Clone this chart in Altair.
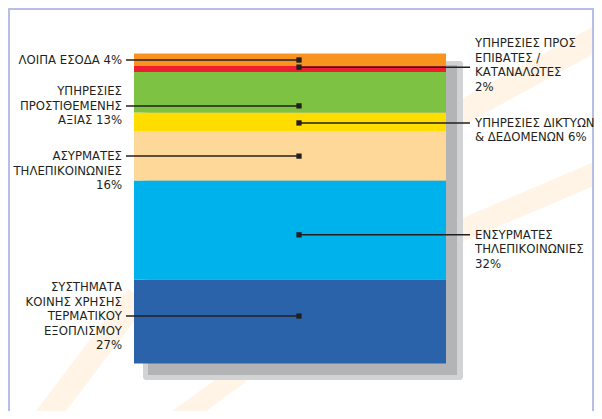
import altair as alt
import pandas as pd

# ---- data (bottom to top) ----
names = ["ΣΥΣΤΗΜΑΤΑ ΚΟΙΝΗΣ ΧΡΗΣΗΣ ΤΕΡΜΑΤΙΚΟΥ ΕΞΟΠΛΙΣΜΟΥ",
         "ΕΝΣΥΡΜΑΤΕΣ ΤΗΛΕΠΙΚΟΙΝΩΝΙΕΣ",
         "ΑΣΥΡΜΑΤΕΣ ΤΗΛΕΠΙΚΟΙΝΩΝΙΕΣ",
         "ΥΠΗΡΕΣΙΕΣ ΔΙΚΤΥΩΝ & ΔΕΔΟΜΕΝΩΝ",
         "ΥΠΗΡΕΣΙΕΣ ΠΡΟΣΤΙΘΕΜΕΝΗΣ ΑΞΙΑΣ",
         "ΥΠΗΡΕΣΙΕΣ ΠΡΟΣ ΕΠΙΒΑΤΕΣ / ΚΑΤΑΝΑΛΩΤΕΣ",
         "ΛΟΙΠΑ ΕΣΟΔΑ"]
values = [27, 32, 16, 6, 13, 2, 4]
colors = ["#2a63aa", "#00b2eb", "#fed899", "#ffdd00", "#7dc243", "#ee1d30", "#f7931e"]
label_lines = [
    ["ΣΥΣΤΗΜΑΤΑ", "ΚΟΙΝΗΣ ΧΡΗΣΗΣ", "ΤΕΡΜΑΤΙΚΟΥ", "ΕΞΟΠΛΙΣΜΟΥ", "27%"],
    ["ΕΝΣΥΡΜΑΤΕΣ", "ΤΗΛΕΠΙΚΟΙΝΩΝΙΕΣ", "\u00a032%"],
    ["ΑΣΥΡΜΑΤΕΣ", "ΤΗΛΕΠΙΚΟΙΝΩΝΙΕΣ", "16%"],
    ["ΥΠΗΡΕΣΙΕΣ ΔΙΚΤΥΩΝ", "& ΔΕΔΟΜΕΝΩΝ 6%"],
    ["ΥΠΗΡΕΣΙΕΣ", "ΠΡΟΣΤΙΘΕΜΕΝΗΣ", "ΑΞΙΑΣ 13%"],
    ["ΥΠΗΡΕΣΙΕΣ ΠΡΟΣ", "ΕΠΙΒΑΤΕΣ /", "ΚΑΤΑΝΑΛΩΤΕΣ", "2%"],
    ["ΛΟΙΠΑ ΕΣΟΔΑ 4%"],
]
sides = ["left", "right", "left", "right", "left", "right", "left"]
# where each leader meets its segment (percent units) and which text line it points at
label_at = [15.3, 41.5, 66.9, 77.6, 83.1, 95.6, 97.9]
leader_line = [2, 0, 0, 0, 1, 1.65, 0]

Y_TOP, Y_BOT = 45.5, 355.5            # pixel range of the 0..100 scale
PX_PER_UNIT = (Y_BOT - Y_TOP) / 100.0
LINE_H = 14.5
FONT = "Liberation Sans Narrow, DejaVu Sans Condensed, Arial Narrow, sans-serif"

seg_rows, txt_rows = [], []
cum = 0
for n, v, s, a, k, lines in zip(names, values, sides, label_at, leader_line, label_lines):
    seg_rows.append({"name": n, "start": cum, "end": cum + v, "side": s, "anchor": a})
    for i, t in enumerate(lines):
        txt_rows.append({"name": n, "line": t, "side": s,
                         "ty": a - (i - k) * LINE_H / PX_PER_UNIT})
    cum += v
seg = pd.DataFrame(seg_rows)
txt = pd.DataFrame(txt_rows)

W, H = 586, 403
yscale = alt.Scale(domain=[0, 100], range=[Y_BOT, Y_TOP])
Y = lambda f: alt.Y(f, scale=yscale, axis=None)
one = pd.DataFrame({"k": [0]})

def band(x1, y1, x2, y2, w):
    return alt.Chart(one).mark_rule(color="#fff4e6", strokeWidth=w, strokeCap="butt").encode(
        x=alt.value(x1), y=alt.value(y1), x2=alt.value(x2), y2=alt.value(y2))

deco = [
    band(440, 112, 600, 24, 24),
    band(440, 228, 600, 160, 22),
    band(30, 420, 130, 288, 24),
    band(158, 420, 232, 366, 20),
]

border = [
    alt.Chart(one).mark_rule(color="#b7bfe6", strokeWidth=2).encode(
        x=alt.value(0), x2=alt.value(W), y=alt.value(1)),
    alt.Chart(one).mark_rule(color="#b7bfe6", strokeWidth=2).encode(
        x=alt.value(1), y=alt.value(0), y2=alt.value(H)),
    alt.Chart(one).mark_rule(color="#b7bfe6", strokeWidth=2).encode(
        x=alt.value(W - 1), y=alt.value(0), y2=alt.value(H)),
]

shadow_outer = alt.Chart(one).mark_rect(color="#d2d3d5", cornerRadius=3).encode(
    x=alt.value(135), x2=alt.value(455), y=alt.value(53), y2=alt.value(372))
shadow_inner = alt.Chart(one).mark_rect(color="#b3b4b6").encode(
    x=alt.value(140), x2=alt.value(449), y=alt.value(57), y2=alt.value(367))

bars = alt.Chart(seg).mark_rect().encode(
    x=alt.value(126), x2=alt.value(438),
    y=Y("start:Q"), y2="end:Q",
    color=alt.Color("name:N", scale=alt.Scale(domain=names, range=colors), legend=None),
)

lead_l = alt.Chart(seg).transform_filter("datum.side == 'left'").mark_rule(
    color="#231f20", strokeWidth=1.5).encode(x=alt.value(118), x2=alt.value(291), y=Y("anchor:Q"))
lead_r = alt.Chart(seg).transform_filter("datum.side == 'right'").mark_rule(
    color="#231f20", strokeWidth=1.5).encode(x=alt.value(291), x2=alt.value(462), y=Y("anchor:Q"))
dots = alt.Chart(seg).mark_square(color="#231f20", size=28, opacity=1).encode(
    x=alt.value(291), y=Y("anchor:Q"))

text_l = alt.Chart(txt).transform_filter("datum.side == 'left'").mark_text(
    align="right", baseline="middle", font=FONT, fontSize=13, color="#231f20").encode(
    x=alt.value(114), y=Y("ty:Q"), text="line:N")
text_r = alt.Chart(txt).transform_filter("datum.side == 'right'").mark_text(
    align="left", baseline="middle", font=FONT, fontSize=13, color="#231f20").encode(
    x=alt.value(467), y=Y("ty:Q"), text="line:N")

chart = alt.layer(
    *deco, *border, shadow_outer, shadow_inner, bars, lead_l, lead_r, dots, text_l, text_r
).properties(
    width=W, height=H, autosize=alt.AutoSizeParams(type="none"), padding=0,
    background="white",
).configure_view(stroke=None)

chart.save("out.html", embed_options={"renderer": "svg", "actions": False})
